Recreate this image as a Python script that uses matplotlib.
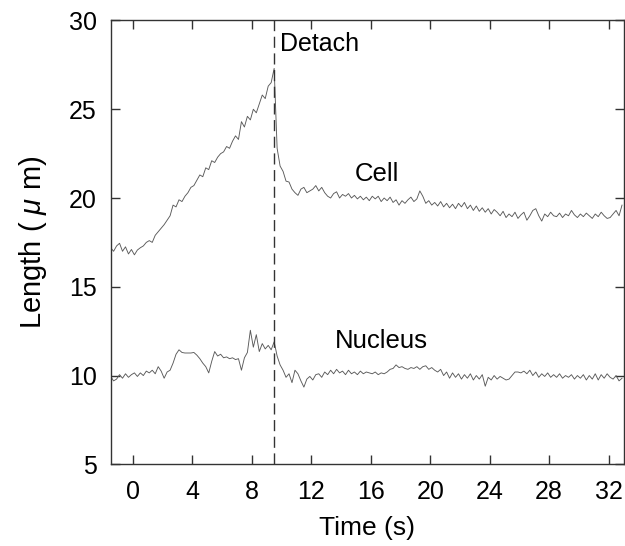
import numpy as np
import matplotlib
matplotlib.use("Agg")
import matplotlib.pyplot as plt

plt.rcParams['font.family'] = ['Liberation Sans', 'DejaVu Sans']
plt.rcParams['mathtext.fontset'] = 'custom'
plt.rcParams['mathtext.it'] = 'Liberation Sans:italic'
plt.rcParams['mathtext.rm'] = 'Liberation Sans'

# sampling: 0.2 s steps starting at -1.5 s
t_start = -1.5
dt = 0.2

cell_length = [
    17.2, 17.0, 17.3, 17.45, 17.0, 17.25, 16.85, 17.1, 16.8, 17.07,
    17.2, 17.3, 17.5, 17.6, 17.5, 17.9, 18.1, 18.3, 18.5, 18.75,
    19.0, 19.6, 19.5, 19.9, 19.8, 20.1, 20.3, 20.6, 20.7, 21.0,
    21.3, 21.2, 21.7, 21.6, 22.1, 22.0, 22.3, 22.5, 22.6, 22.9,
    22.8, 23.2, 23.5, 23.3, 24.3, 24.0, 24.6, 24.4, 25.0, 24.8,
    25.3, 25.8, 25.6, 26.3, 26.5, 27.3, 22.8, 21.8, 21.5, 20.95,
    20.9, 20.5, 20.3, 20.15, 20.5, 20.6, 20.3, 20.4, 20.5, 20.7,
    20.4, 20.6, 20.3, 20.1, 20.0, 20.25, 20.35, 20.0, 20.2, 20.1,
    20.25, 20.0, 20.15, 19.95, 20.1, 19.9, 20.05, 19.85, 20.1, 19.95,
    20.1, 19.8, 20.0, 19.85, 20.05, 19.75, 19.9, 19.6, 19.85, 19.7,
    19.9, 20.05, 19.8, 19.95, 20.4, 20.1, 19.7, 19.85, 19.6, 19.75,
    19.55, 19.8, 19.5, 19.7, 19.45, 19.65, 19.4, 19.7, 19.5, 19.75,
    19.4, 19.6, 19.3, 19.55, 19.25, 19.45, 19.2, 19.4, 19.1, 19.35,
    19.2, 19.0, 19.25, 18.9, 19.1, 18.95, 19.2, 18.85, 19.05, 19.2,
    18.75, 19.0, 19.3, 19.4, 19.0, 18.7, 19.1, 18.95, 19.2, 19.0,
    18.95, 19.15, 18.9, 19.1, 19.0, 19.3, 19.05, 18.9, 19.1, 18.95,
    19.15, 19.0, 18.85, 19.1, 18.95, 19.2, 19.0, 18.85, 18.9, 19.1,
    19.3, 19.0, 19.6,
]

nucleus_length = [
    9.95, 9.7, 9.8, 10.05, 9.85, 10.1, 9.9, 10.05, 10.15, 9.95,
    10.15, 10.0, 10.25, 10.15, 10.3, 10.1, 10.5, 10.25, 9.85, 10.2,
    10.3, 10.7, 11.2, 11.45, 11.3, 11.27, 11.27, 11.27, 11.3, 11.15,
    10.95, 10.7, 10.5, 10.15, 10.8, 11.35, 11.1, 11.2, 11.0, 11.05,
    10.95, 11.0, 10.9, 10.95, 10.3, 11.0, 11.3, 12.55, 11.6, 12.3,
    11.35, 11.8, 11.5, 11.7, 11.45, 11.9, 11.1, 10.6, 10.3, 9.9,
    10.1, 9.6, 10.3, 10.1, 9.7, 9.35, 9.8, 9.95, 9.75, 10.05,
    10.1, 9.9, 10.2, 10.05, 10.3, 10.1, 10.35, 10.15, 10.25, 10.05,
    10.3, 10.1, 10.2, 10.05, 10.25, 10.1, 10.2, 10.15, 10.1, 10.2,
    10.05, 10.15, 10.1, 10.2, 10.35, 10.4, 10.6, 10.45, 10.5, 10.4,
    10.35, 10.45, 10.4, 10.5, 10.35, 10.5, 10.55, 10.35, 10.45, 10.3,
    10.2, 10.35, 10.0, 10.2, 9.85, 10.15, 9.9, 10.1, 9.8, 10.05,
    9.85, 10.1, 9.75, 10.0, 9.8, 10.05, 9.4, 9.9, 9.75, 10.0,
    9.8, 9.95, 9.85, 9.75, 9.8, 10.0, 10.2, 10.2, 10.15, 10.25,
    10.1, 10.3, 10.0, 10.2, 9.9, 10.1, 9.95, 10.15, 9.9, 10.05,
    9.9, 10.1, 9.85, 10.0, 9.9, 10.05, 9.8, 10.0, 9.85, 10.05,
    9.75, 10.0, 9.8, 10.1, 9.75, 10.05, 9.85, 10.1, 9.9, 9.8,
    10.0, 9.7, 9.85,
]

detach_time = 9.5
x_ticks = [0, 4, 8, 12, 16, 20, 24, 28, 32]
y_ticks = [5, 10, 15, 20, 25, 30]

time = t_start + dt * np.arange(len(cell_length))

fig = plt.figure(figsize=(6.25, 5.46), dpi=100)
ax = fig.add_axes([0.177, 0.1496, 0.8206, 0.8129])

ax.plot(time, cell_length, color='#5a5a5a', lw=0.65)
ax.plot(time, nucleus_length, color='#5a5a5a', lw=0.65)
ax.axvline(detach_time, color='#333333', lw=1.0, dashes=(8, 4))

ax.set_xlim(-1.5, 33.0)
ax.set_ylim(5, 30)
ax.set_xticks(x_ticks)
ax.set_yticks(y_ticks)

for s in ax.spines.values():
    s.set_color('#333333')
    s.set_linewidth(1.0)

ax.tick_params(direction='in', top=True, right=True, length=6.5, width=1.0,
               color='#333333', labelsize=18)
ax.tick_params(axis='x', pad=11)
ax.tick_params(axis='y', pad=10)

ax.set_xlabel('Time (s)', fontsize=19, labelpad=9)
ax.set_ylabel('Length ( $\\mu$ m)', fontsize=21, labelpad=14)

ax.text(9.9, 28.65, 'Detach', fontsize=18, va='center', ha='left')
ax.text(14.9, 21.35, 'Cell', fontsize=18.5, va='center', ha='left')
ax.text(13.6, 11.95, 'Nucleus', fontsize=18.5, va='center', ha='left')

fig.savefig('out.png', dpi=100)
